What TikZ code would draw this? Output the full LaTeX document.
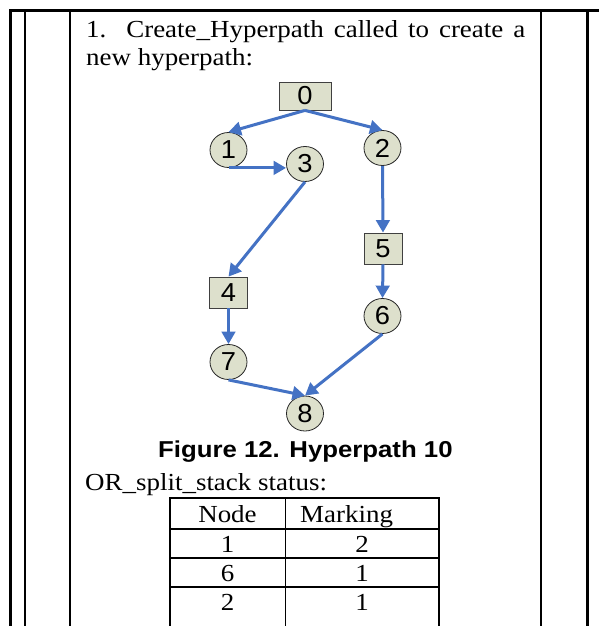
\documentclass[tikz,border=0pt]{standalone}
\usepackage{fontspec}
\setmainfont{Liberation Serif}[FakeStretch=1.1]
\newfontfamily\sansnum{Liberation Sans}[FakeStretch=1.05]
\newfontfamily\capsans{Liberation Sans}[FakeStretch=1.12]
\usetikzlibrary{arrows.meta,shapes.geometric}
\definecolor{nodefill}{RGB}{221,224,204}
\definecolor{edgeblue}{RGB}{68,114,196}
\begin{document}
\begin{tikzpicture}[x=1pt,y=-1pt,
  frameline/.style={line width=2pt,black},
  tabline/.style={line width=1.8pt,black},
  circ/.style={ellipse,draw=black!85,line width=0.8pt,fill=nodefill,minimum width=37pt,minimum height=35pt,inner sep=0pt,font=\sansnum\fontsize{26}{26}\selectfont},
  sq/.style={rectangle,draw=black!75,line width=0.8pt,fill=nodefill,minimum width=38pt,minimum height=31pt,inner sep=0pt,font=\sansnum\fontsize{26}{26}\selectfont},
  edge/.style={draw=edgeblue,line width=3pt,-{Triangle[length=12.5pt,width=13.5pt]}},
  body/.style={inner sep=0pt,anchor=base west,font=\fontsize{24.5}{24.5}\selectfont},
  cell/.style={inner sep=0pt,anchor=base,font=\fontsize{24.5}{24.5}\selectfont}
]
\fill[white] (0,0) rectangle (599,626);
\useasboundingbox (0,0) rectangle (599,626);
% frame
\draw[line width=3pt] (9,10.8) -- (599,10.8);
\draw[line width=2.6pt] (10.5,9.5) -- (10.5,626);
\draw[frameline] (25,9.5) -- (25,626);
\draw[frameline] (70,9.5) -- (70,626);
\draw[frameline] (541,9.5) -- (541,626);
\draw[line width=2.6pt] (587.5,9.5) -- (587.5,626);
% text
\node[body] (t1) at (86,37.5) {\makebox[439pt][s]{1.\ \ Create\_Hyperpath called to create a}};
\node[body] (t2) at (86,65.5) {new hyperpath:};
% graph
\node[sq,minimum width=52pt,minimum height=28pt] (n0) at (305,96) {0};
\node[circ] (n1) at (228.5,150) {1};
\node[circ] (n2) at (382.5,148) {2};
\node[circ] (n3) at (305,164) {3};
\node[sq] (n4) at (228.5,292.5) {4};
\node[sq] (n5) at (383,248.5) {5};
\node[circ] (n6) at (382.5,316) {6};
\node[circ] (n7) at (228.5,362) {7};
\node[circ] (n8) at (305,413.5) {8};
\draw[edge] (n0.south) -- (n1.north);
\draw[edge] (n0.south) -- (n2.north);
\draw[edge] (n1.south) -- (n3.west |- n1.south);
\draw[edge] (n3.south) -- (n4.north);
\draw[edge] (n2.south) -- (n5.north);
\draw[edge] (n5.south) -- (n6.north);
\draw[edge] (n4.south) -- (n7.north);
\draw[edge] (n7.south) -- (n8.north);
\draw[edge] (n6.south) -- (n8.north);
% caption
\node[inner sep=0pt,anchor=base west,font=\capsans\bfseries\fontsize{23}{23}\selectfont] (cap) at (158,457) {Figure 12. Hyperpath 10};
\node[body] (t3) at (85,490) {OR\_split\_stack status:};
% table
\draw[tabline] (170,498) -- (439,498);
\draw[tabline] (170,529) -- (439,529);
\draw[tabline] (170,558) -- (439,558);
\draw[tabline] (170,587) -- (439,587);
\draw[tabline] (170,497.1) -- (170,626);
\draw[tabline] (285.5,497.1) -- (285.5,626);
\draw[tabline] (439,497.1) -- (439,626);
\node[cell] (h1) at (227.5,522) {Node};
\node[cell,anchor=base west] (h2) at (300,522) {Marking};
\node[cell] (a1) at (227.5,552) {1};
\node[cell] (b1) at (362,552) {2};
\node[cell] (a2) at (227.5,581) {6};
\node[cell] (b2) at (362,581) {1};
\node[cell] (a3) at (227.5,610) {2};
\node[cell] (b3) at (362,610) {1};
\end{tikzpicture}
\end{document}
